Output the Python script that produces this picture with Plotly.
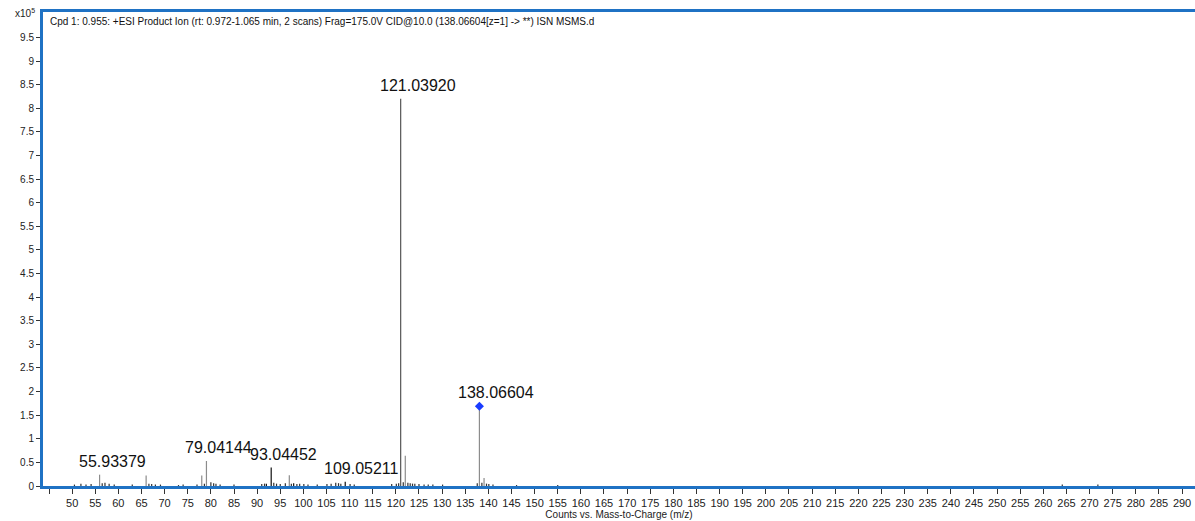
import plotly.graph_objects as go

# Picos principales (m/z, intensidad x10^5)
major_mz = [55.93379, 66.0, 78.03, 79.04144, 96.96, 122.04, 138.06604, 139.07]
major_int = [0.24, 0.22, 0.22, 0.53, 0.23, 0.64, 1.69, 0.17]

base_mz = [121.03920]
base_int = [8.20]

dark_mz = [93.04452, 109.05211, 92.0, 97.9]
dark_int = [0.39, 0.09, 0.05, 0.06]

# Ruido de fondo
noise_mz = [50.5, 51.9, 53.0, 54.1, 56.5, 57.1, 58.0, 59.1, 63.0, 66.6, 67.2, 68.0, 69.1,
            73.0, 74.0, 77.0, 78.6, 80.0, 80.6, 81.1, 82.0, 85.0, 91.0, 91.6, 93.6, 94.2,
            95.0, 96.1, 97.4, 98.6, 99.2, 100.1, 101.0, 103.0, 105.1, 106.0, 107.0, 107.6,
            108.1, 110.1, 111.0, 119.1, 120.1, 120.6, 121.6, 122.6, 123.1, 123.6, 124.1,
            125.0, 126.1, 127.0, 128.0, 130.1, 137.6, 138.6, 139.6, 140.1, 141.0, 146.1,
            155.0, 264.1, 271.8]
noise_int = [0.03, 0.05, 0.03, 0.04, 0.06, 0.07, 0.05, 0.03, 0.03, 0.05, 0.04, 0.03, 0.03,
             0.02, 0.03, 0.03, 0.05, 0.08, 0.06, 0.05, 0.03, 0.03, 0.04, 0.05, 0.07, 0.05,
             0.04, 0.06, 0.05, 0.04, 0.05, 0.04, 0.03, 0.03, 0.04, 0.05, 0.07, 0.06,
             0.05, 0.04, 0.03, 0.04, 0.05, 0.06, 0.08, 0.07, 0.06, 0.05, 0.05,
             0.04, 0.03, 0.03, 0.03, 0.03, 0.06, 0.07, 0.05, 0.04, 0.03, 0.02,
             0.02, 0.03, 0.03]

# Etiquetas de picos
label_mz = [55.93379, 79.04144, 93.04452, 109.05211, 121.03920, 138.06604]
label_int = [0.24, 0.53, 0.39, 0.09, 8.20, 1.69]
label_text = ["55.93379", "79.04144", "93.04452", "109.05211", "121.03920", "138.06604"]

title_text = ("Cpd 1: 0.955: +ESI Product Ion (rt: 0.972-1.065 min, 2 scans) "
              "Frag=175.0V CID@10.0 (138.06604[z=1] -> **) ISN MSMS.d")

x_ticks = list(range(50, 295, 5))
y_ticks = [i * 0.5 for i in range(20)]
y_text = [("%g" % v) for v in y_ticks]


def sticks(mz, inten):
    xs, ys = [], []
    for m, h in zip(mz, inten):
        xs += [m, m, None]
        ys += [0, h, None]
    return xs, ys


fig = go.Figure()
for mz, inten, color in [(noise_mz, noise_int, "#333333"),
                         (major_mz, major_int, "#8c8c8c"),
                         (dark_mz, dark_int, "#111111"),
                         (base_mz, base_int, "#555555")]:
    xs, ys = sticks(mz, inten)
    fig.add_trace(go.Scatter(x=xs, y=ys, mode="lines",
                             line=dict(color=color, width=1.2),
                             hoverinfo="skip", showlegend=False))

# Marcador del precursor
fig.add_trace(go.Scatter(x=[138.06604], y=[1.69], mode="markers",
                         marker=dict(symbol="diamond", size=7, color="#1a3cff"),
                         showlegend=False))

for m, h, t in zip(label_mz, label_int, label_text):
    fig.add_annotation(x=m, y=h, text=t, showarrow=False, xanchor="left",
                       yanchor="bottom", xshift=-23, yshift=3,
                       font=dict(size=16, color="#111111", family="Arial"))

fig.add_annotation(x=0.004, y=0.995, xref="paper", yref="paper", text=title_text,
                   showarrow=False, xanchor="left", yanchor="top",
                   font=dict(size=10, color="#111111", family="Arial"))
# Factor de escala del eje Y
fig.add_annotation(x=-6 / 1152, y=0.997, xref="paper", yref="paper", text="x10<sup>5</sup>",
                   showarrow=False, xanchor="right", yanchor="middle",
                   font=dict(size=10, color="#222222", family="Arial"))

fig.update_layout(
    width=1195, height=521,
    margin=dict(l=43, r=0, t=12, b=35),
    plot_bgcolor="white", paper_bgcolor="white",
    font=dict(family="Arial", size=10, color="#222222"),
)

fig.update_xaxes(range=[43.7, 292.8], tickvals=x_ticks,
                 ticks="outside", ticklen=5, tickcolor="#333333",
                 minor=dict(ticks="outside", ticklen=5, tickcolor="#333333",
                            tick0=45, dtick=5),
                 showgrid=False, zeroline=False, automargin=False,
                 showline=True, linecolor="#1f72c4", linewidth=3, mirror=True,
                 title=dict(text="Counts vs. Mass-to-Charge (m/z)", standoff=2,
                            font=dict(size=10)),
                 tickfont=dict(size=11))
fig.update_yaxes(range=[0, 10.04], tickvals=y_ticks, ticktext=y_text,
                 ticks="outside", ticklen=4, tickcolor="#333333",
                 showgrid=False, zeroline=False, automargin=False,
                 showline=True, linecolor="#1f72c4", linewidth=3, mirror=False,
                 tickfont=dict(size=10))

fig.write_html("out.html", config={"displayModeBar": False},
               post_script="document.body.style.margin='0';")
